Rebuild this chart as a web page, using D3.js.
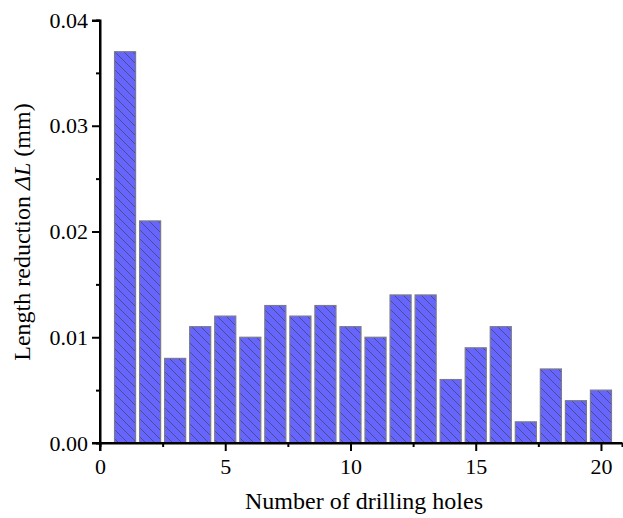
<!DOCTYPE html>
<html>
<head>
<meta charset="utf-8">
<script src="https://cdn.jsdelivr.net/npm/d3@7"></script>
<style>
  body { margin: 0; background: #fff; }
  svg text { font-family: "Liberation Serif", "Times New Roman", serif; fill: #000; }
</style>
</head>
<body>
<svg id="chart"></svg>
<script>
// hole numbers and measured length reduction (mm)
const holes = d3.range(1, 21);
const reduction = [0.037, 0.021, 0.008, 0.011, 0.012, 0.010, 0.013, 0.012, 0.013, 0.011,
                   0.010, 0.014, 0.014, 0.006, 0.009, 0.011, 0.002, 0.007, 0.004, 0.005];
const xTicks = [0, 5, 10, 15, 20];
const yTicks = [0, 0.01, 0.02, 0.03, 0.04];

const width = 623, height = 518;
const margin = {top: 20, right: 1, bottom: 75, left: 100};

const svg = d3.select('#chart')
    .attr('width', width)
    .attr('height', height);

// hatch pattern for the bars
const defs = svg.append('defs');
const pat = defs.append('pattern')
    .attr('id', 'hatch')
    .attr('patternUnits', 'userSpaceOnUse')
    .attr('width', 9)
    .attr('height', 9);
pat.append('rect').attr('width', 9).attr('height', 9).attr('fill', '#6666ff');
pat.append('path')
    .attr('d', 'M0,0 L9,9 M-1,8 L1,10 M8,-1 L10,1')
    .attr('stroke', '#4a4a7a')
    .attr('stroke-width', 0.9);

const x = d3.scaleLinear()
    .domain([0, 20.84])
    .range([margin.left, width - margin.right]);

const y = d3.scaleLinear()
    .domain([0, 0.04])
    .range([height - margin.bottom, margin.top]);

const barW = x(0.84) - x(0);

svg.append('g')
  .selectAll('rect')
  .data(holes)
  .join('rect')
    .attr('x', (d, i) => x(d) - barW / 2)
    .attr('y', (d, i) => y(reduction[i]))
    .attr('width', barW)
    .attr('height', (d, i) => y(0) - y(reduction[i]))
    .attr('fill', 'url(#hatch)')
    .attr('stroke', '#7a7a8a')
    .attr('stroke-width', 1.2);

// axes
const xAxis = d3.axisBottom(x)
    .tickValues(xTicks)
    .tickSize(8)
    .tickPadding(7)
    .tickFormat(d3.format('d'));

const xMinor = d3.axisBottom(x)
    .tickValues([2.5, 7.5, 12.5, 17.5])
    .tickSize(4)
    .tickFormat('');

const yAxis = d3.axisLeft(y)
    .tickValues(yTicks)
    .tickSize(8)
    .tickPadding(4)
    .tickFormat(d => d === 0 ? '0.00' : d3.format('.2~f')(d));

const yMinor = d3.axisLeft(y)
    .tickValues([0.005, 0.015, 0.025, 0.035])
    .tickSize(4)
    .tickFormat('');

function styleAxis(g) {
  g.select('.domain').attr('stroke-width', 2);
  g.selectAll('.tick line').attr('stroke-width', 2);
  g.selectAll('.tick text')
      .style('font-family', '"Liberation Serif", "Times New Roman", serif')
      .style('font-size', '22px');
}

svg.append('g')
    .attr('transform', `translate(0,${y(0)})`)
    .call(xMinor)
    .call(styleAxis);

svg.append('g')
    .attr('transform', `translate(0,${y(0)})`)
    .call(xAxis)
    .call(styleAxis)
    .call(g => g.select('.domain').attr('d', `M${x(0) - 8},0H${x.range()[1]}`));

svg.append('g')
    .attr('transform', `translate(${x(0)},0)`)
    .call(yMinor)
    .call(styleAxis);

svg.append('g')
    .attr('transform', `translate(${x(0)},0)`)
    .call(yAxis)
    .call(styleAxis)
    .call(g => g.select('.domain').attr('d', `M0,${y(0) + 8}V${y.range()[1] + 1}H-8`));

// axis titles
svg.append('text')
    .attr('x', 364)
    .attr('y', 509)
    .attr('text-anchor', 'middle')
    .style('font-size', '24px')
    .text('Number of drilling holes');

const yTitle = svg.append('text')
    .attr('transform', `translate(30,232) rotate(-90)`)
    .attr('text-anchor', 'middle')
    .style('font-size', '24px');
yTitle.append('tspan').text('Length reduction ');
yTitle.append('tspan').style('font-style', 'italic').text('\u0394L');
yTitle.append('tspan').text(' (mm)');
</script>
</body>
</html>
